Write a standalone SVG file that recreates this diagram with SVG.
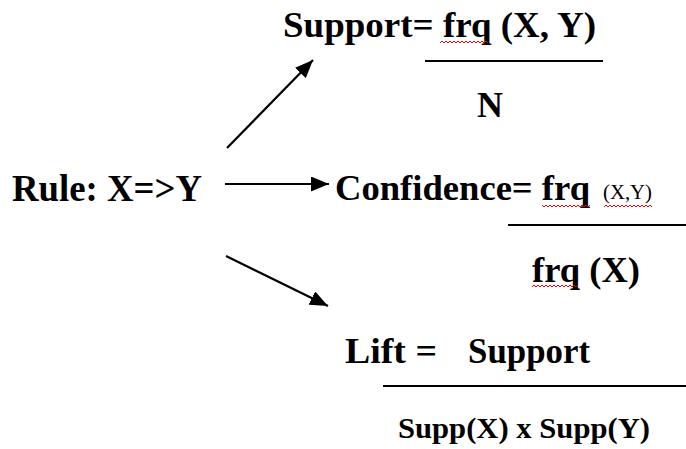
<svg xmlns="http://www.w3.org/2000/svg" width="686" height="449" viewBox="0 0 686 449">
<style>
.t{font-family:"Liberation Serif","Times New Roman",serif;font-weight:bold;fill:#000}
.n{font-family:"Liberation Serif","Times New Roman",serif;fill:#000}
.conn{stroke:#000;stroke-width:2.2;fill:none}
.bar{stroke:#000;stroke-width:2;fill:none}
</style>
<defs>
<marker id="ah" markerUnits="userSpaceOnUse" markerWidth="19" markerHeight="15" refX="18" refY="7.5" orient="auto">
<path d="M0,0 L18,7.5 L0,15 Z" fill="#000"/>
</marker>
<pattern id="wave" width="4" height="4" patternUnits="userSpaceOnUse" x="0" y="0">
<path d="M0,3 L2,1 L4,3" stroke="#e00" stroke-width="1" fill="none"/>
</pattern>
</defs>
<rect width="686" height="449" fill="#fff"/>
<g id="connectors">
<line class="conn" x1="227" y1="148" x2="313" y2="60" marker-end="url(#ah)"/>
<line class="conn" x1="225" y1="184" x2="329" y2="184" marker-end="url(#ah)"/>
<line class="conn" x1="226" y1="256" x2="328" y2="306" marker-end="url(#ah)"/>
</g>
<g id="rule">
<text class="t" x="12" y="201" font-size="37" textLength="190" lengthAdjust="spacingAndGlyphs">Rule: X=&gt;Y</text>
</g>
<g id="support">
<text class="t" x="283" y="37" font-size="35" textLength="313" lengthAdjust="spacingAndGlyphs">Support= frq (X, Y)</text>
<rect x="440" y="40" width="48" height="4" fill="url(#wave)"/>
<line class="bar" x1="425" y1="61" x2="603" y2="61"/>
<text class="t" x="477" y="117" font-size="35" textLength="26" lengthAdjust="spacingAndGlyphs">N</text>
</g>
<g id="confidence">
<text class="t" x="335" y="200" font-size="35" textLength="255" lengthAdjust="spacingAndGlyphs">Confidence= frq</text>
<text class="n" x="603" y="199" font-size="22" textLength="49" lengthAdjust="spacingAndGlyphs">(X,Y)</text>
<rect x="542" y="204" width="48" height="4" fill="url(#wave)"/>
<rect x="604" y="204" width="48" height="4" fill="url(#wave)"/>
<line class="bar" x1="508" y1="225" x2="686" y2="225"/>
<text class="t" x="532" y="282" font-size="35" textLength="108" lengthAdjust="spacingAndGlyphs">frq (X)</text>
<rect x="532" y="284" width="46" height="4" fill="url(#wave)"/>
</g>
<g id="lift">
<text class="t" x="345" y="363" font-size="35" textLength="92" lengthAdjust="spacingAndGlyphs">Lift =</text>
<text class="t" x="468" y="363" font-size="35" textLength="122" lengthAdjust="spacingAndGlyphs">Support</text>
<line class="bar" x1="383" y1="386" x2="686" y2="386"/>
<text class="t" x="398" y="438" font-size="30" textLength="252" lengthAdjust="spacingAndGlyphs">Supp(X) x Supp(Y)</text>
</g>
</svg>
